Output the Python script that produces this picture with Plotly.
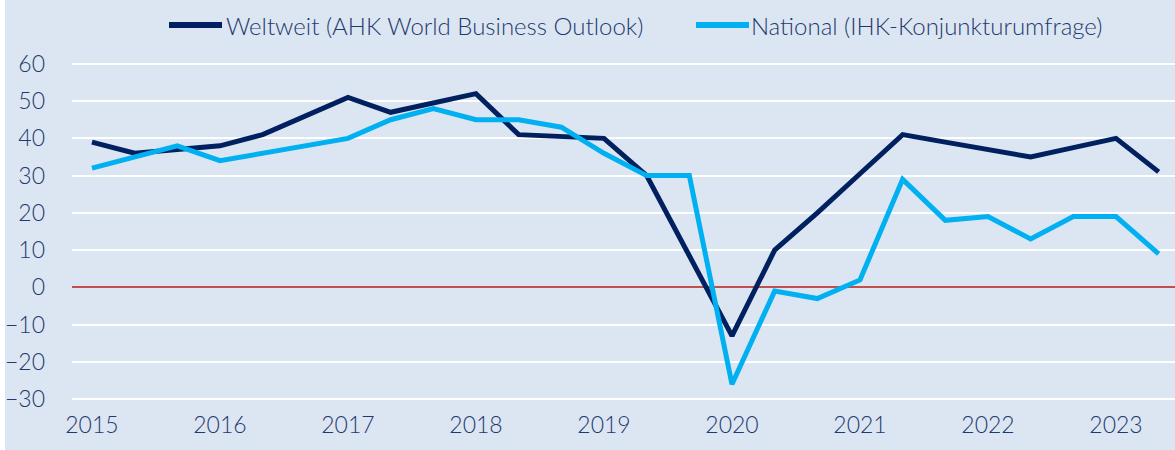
import plotly.graph_objects as go

# survey periods: three surveys per year (start of year, early summer, autumn)
periods = [2015 + i / 3 for i in range(26)]

weltweit = [39, 36, 37, 38, 41, 46, 51, 47, 49.5, 52, 41, 40.5, 40,
            30, 8.5, -13, 10, 20, 30.5, 41, 39, 37, 35, 37.5, 40, 31]
national = [32, 35, 38, 34, 36, 38, 40, 45, 48, 45, 45, 43, 36,
            30, 30, -26, -1, -3, 2, 29, 18, 19, 13, 19, 19, 9]

year_ticks = [2015, 2016, 2017, 2018, 2019, 2020, 2021, 2022, 2023]
y_ticks = [-30, -20, -10, 0, 10, 20, 30, 40, 50, 60]

name_w = "Weltweit (AHK World Business Outlook)"
name_n = "National (IHK-Konjunkturumfrage)"

txt = "#1f3a6e"
bg = "#dce6f2"
c_w = "#002060"
c_n = "#00b0f0"

W, H = 1175, 450
L, R, T, B = 72, 0, 62, 49
pw, ph = W - L - R, H - T - B


def px_x(x):
    return (x - L) / pw


def px_y(y):
    return 1 - (y - T) / ph


fig = go.Figure()
fig.add_trace(go.Scatter(x=periods, y=weltweit, mode="lines", name=name_w,
                         line=dict(color=c_w, width=5)))
fig.add_trace(go.Scatter(x=periods, y=national, mode="lines", name=name_n,
                         line=dict(color=c_n, width=5)))

leg_y = 25
shapes = [
    dict(type="rect", xref="paper", yref="paper",
         x0=px_x(0), x1=px_x(5), y0=px_y(H), y1=px_y(0),
         fillcolor="#ffffff", line=dict(width=0), layer="below"),
    dict(type="line", xref="paper", yref="paper",
         x0=px_x(169), x1=px_x(222), y0=px_y(leg_y), y1=px_y(leg_y),
         line=dict(color=c_w, width=6)),
    dict(type="line", xref="paper", yref="paper",
         x0=px_x(696), x1=px_x(749), y0=px_y(leg_y), y1=px_y(leg_y),
         line=dict(color=c_n, width=6)),
]

fig.update_layout(
    width=W, height=H,
    margin=dict(l=L, r=R, t=T, b=B),
    paper_bgcolor=bg, plot_bgcolor=bg,
    font=dict(family="Lato", size=23, color=txt, weight=300),
    showlegend=True,
    legend=dict(orientation="h", xref="container", yref="container",
                x=0.605, xanchor="center", y=1 - 26 / H, yanchor="middle",
                bgcolor="rgba(0,0,0,0)", font=dict(size=24, color=txt, family="Lato", weight=300),
                itemwidth=30, entrywidth=480, traceorder="normal"),
    xaxis=dict(range=[2014.844, 2023.461], tickvals=year_ticks,
               ticktext=[str(y) for y in year_ticks], showgrid=False,
               zeroline=False, showline=False, ticks="", ticklabelstandoff=8,
               tickfont=dict(size=23, color=txt)),
    yaxis=dict(range=[-30.5, 60.5], tickvals=y_ticks, showgrid=True,
               gridcolor="#ffffff", gridwidth=1.5, zeroline=True,
               zerolinecolor="#c0504d", zerolinewidth=1.5, showline=False,
               ticks="", ticklabelstandoff=26, tickfont=dict(size=23, color=txt)),
    shapes=shapes,
)

fig.write_html("out.html", config={"displayModeBar": False},
               post_script="document.body.style.margin='0';")
